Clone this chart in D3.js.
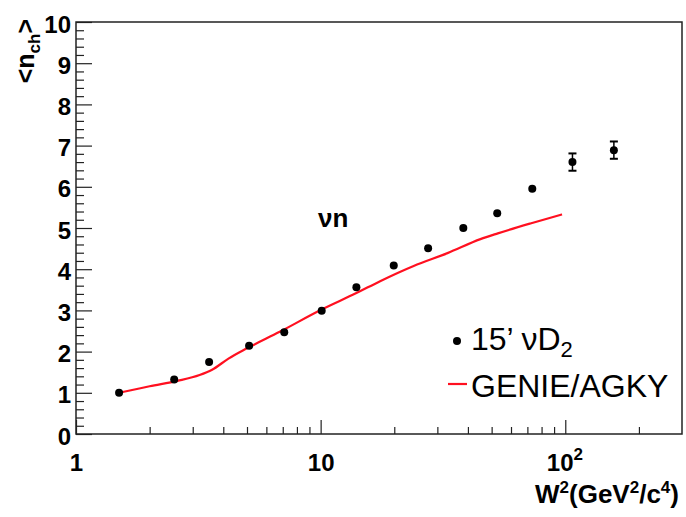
<!DOCTYPE html>
<html>
<head>
<meta charset="utf-8">
<script src="https://cdn.jsdelivr.net/npm/d3@7"></script>
<style>
  html, body { margin: 0; padding: 0; background: #fff; }
  svg { display: block; }
  text { font-family: "Liberation Sans", Arial, Helvetica, sans-serif; fill: #000; }
</style>
</head>
<body>
<svg id="chart" width="686" height="517"></svg>
<script>
// ---- data ----
const dataW2   = [1.5, 2.52, 3.5, 5.1, 7.1, 10.1, 14.0, 19.9, 27.5, 38.3, 52.7, 73.3, 107, 158];
const dataNch  = [1.0, 1.32, 1.75, 2.14, 2.47, 2.99, 3.56, 4.09, 4.51, 5.0, 5.36, 5.95, 6.60, 6.89];
const dataErr  = [0, 0, 0, 0, 0, 0, 0, 0, 0, 0, 0, 0, 0.21, 0.21];

const genieW2  = [1.5, 2.0, 2.6, 3.2, 3.6, 4.2, 5.0, 6.8, 10, 14, 17.5, 24, 33, 45, 53, 72, 97];
const genieNch = [1.0, 1.16, 1.29, 1.43, 1.56, 1.83, 2.08, 2.48, 3.01, 3.42, 3.71, 4.08, 4.39, 4.73, 4.87, 5.11, 5.33];

const xMajorTicks = [1, 10, 100];
const xMinorTicks = [2,3,4,5,6,7,8,9,20,30,40,50,60,70,80,90,200];
const xTickLabels = ["1", "10", "10|2"];
const yMajorTicks = [0,1,2,3,4,5,6,7,8,9,10];
const yMinorTicks = d3.range(0, 50).map(i => i / 5).filter(v => Math.abs(v - Math.round(v)) > 1e-6);

const legendLabels = ["15\u2019 \u03BDD|2", "GENIE/AGKY"];
const annotation = "\u03BDn";

// ---- layout ----
const svg = d3.select("#chart");
const L = 76, R = 682, T = 22, B = 434;
const x = d3.scaleLog().domain([1, 300]).range([L, R]);
const y = d3.scaleLinear().domain([0, 10]).range([B, T]);

const axisColor = "#222";

// y axis: minor ticks
const gyMinor = svg.append("g").attr("transform", `translate(${L},0)`)
  .call(d3.axisLeft(y).tickValues(yMinorTicks).tickSize(-8).tickFormat(""));
gyMinor.select(".domain").remove();
gyMinor.selectAll("line").attr("stroke", axisColor).attr("stroke-width", 1.2);

// y axis: major ticks
const gy = svg.append("g").attr("transform", `translate(${L},0)`)
  .call(d3.axisLeft(y).tickValues(yMajorTicks).tickSize(-16).tickPadding(5).tickFormat(d3.format("d")));
gy.select(".domain").remove();
gy.selectAll("line").attr("stroke", axisColor).attr("stroke-width", 1.2);
gy.selectAll("text")
  .attr("font-size", 24).attr("font-weight", "bold")
  .attr("font-family", "Liberation Sans, Arial, sans-serif")
  .attr("fill", "#000")
  .attr("dy", "0.42em");

// x axis: minor ticks
const gxMinor = svg.append("g").attr("transform", `translate(0,${B})`)
  .call(d3.axisBottom(x).tickValues(xMinorTicks).tickSize(-7).tickFormat(""));
gxMinor.select(".domain").remove();
gxMinor.selectAll("line").attr("stroke", axisColor).attr("stroke-width", 1.2);

// x axis: major ticks
const gx = svg.append("g").attr("transform", `translate(0,${B})`)
  .call(d3.axisBottom(x).tickValues(xMajorTicks).tickSize(-14).tickPadding(0).tickFormat((d, i) => ""));
gx.select(".domain").remove();
gx.selectAll("line").attr("stroke", axisColor).attr("stroke-width", 1.2);
gx.selectAll(".tick text").each(function(d, i) {
  const t = d3.select(this);
  const parts = xTickLabels[i].split("|");
  t.text(null)
   .attr("font-size", 24).attr("font-weight", "bold")
   .attr("font-family", "Liberation Sans, Arial, sans-serif")
   .attr("fill", "#000")
   .attr("y", 37).attr("dy", 0);
  if (parts.length > 1) {
    t.attr("text-anchor", "start").attr("x", -19);
    t.append("tspan").text(parts[0]);
    t.append("tspan").attr("font-size", 17).attr("dy", -11).text(parts[1]);
  } else {
    t.text(parts[0]);
  }
});

// frame
svg.append("rect")
  .attr("x", L).attr("y", T).attr("width", R - L).attr("height", B - T)
  .attr("fill", "none").attr("stroke", axisColor).attr("stroke-width", 1.5);

// GENIE curve
const genie = genieW2.map((w, i) => [w, genieNch[i]]);
svg.append("path")
  .datum(genie)
  .attr("fill", "none")
  .attr("stroke", "#ff1020")
  .attr("stroke-width", 2.2)
  .attr("d", d3.line().x(d => x(d[0])).y(d => y(d[1])).curve(d3.curveMonotoneX));

// data points with error bars
const pts = dataW2.map((w, i) => ({ w, n: dataNch[i], e: dataErr[i] }));
const eb = svg.append("g");
pts.filter(p => p.e > 0).forEach(p => {
  const cx = x(p.w);
  eb.append("line").attr("x1", cx).attr("x2", cx).attr("y1", y(p.n - p.e)).attr("y2", y(p.n + p.e))
    .attr("stroke", "#000").attr("stroke-width", 1.5);
  [p.n - p.e, p.n + p.e].forEach(v => {
    eb.append("line").attr("x1", cx - 4).attr("x2", cx + 4).attr("y1", y(v)).attr("y2", y(v))
      .attr("stroke", "#000").attr("stroke-width", 2);
  });
});
svg.append("g").selectAll("circle").data(pts).join("circle")
  .attr("cx", d => x(d.w)).attr("cy", d => y(d.n)).attr("r", 4).attr("fill", "#000");

// annotation
svg.append("text").attr("x", 318).attr("y", 227)
  .attr("font-size", 26).attr("font-weight", "bold").text(annotation);

// legend
svg.append("circle").attr("cx", 457).attr("cy", 341).attr("r", 4).attr("fill", "#000");
const lt1 = svg.append("text").attr("x", 471).attr("y", 350).attr("font-size", 32);
const lp = legendLabels[0].split("|");
lt1.append("tspan").text(lp[0]);
lt1.append("tspan").attr("font-size", 22).attr("dy", 7).text(lp[1]);
svg.append("line").attr("x1", 448).attr("x2", 467).attr("y1", 384).attr("y2", 384)
  .attr("stroke", "#ff1020").attr("stroke-width", 2.2);
svg.append("text").attr("x", 471).attr("y", 397).attr("font-size", 32).text(legendLabels[1]);

// axis titles
const xt = svg.append("text").attr("x", 679).attr("y", 503).attr("text-anchor", "end")
  .attr("font-size", 26).attr("font-weight", "bold");
xt.append("tspan").text("W");
xt.append("tspan").attr("font-size", 17).attr("dy", -10).text("2");
xt.append("tspan").attr("dy", 10).text("(GeV");
xt.append("tspan").attr("font-size", 17).attr("dy", -10).text("2");
xt.append("tspan").attr("dy", 10).text("/c");
xt.append("tspan").attr("font-size", 17).attr("dy", -10).text("4");
xt.append("tspan").attr("dy", 10).text(")");

const yt = svg.append("text").attr("transform", "translate(34,19) rotate(-90)")
  .attr("text-anchor", "end").attr("font-size", 25).attr("font-weight", "bold");
yt.append("tspan").text("<n");
yt.append("tspan").attr("font-size", 17).attr("dy", 6).text("ch");
yt.append("tspan").attr("dy", -6).text(">");
</script>
</body>
</html>
